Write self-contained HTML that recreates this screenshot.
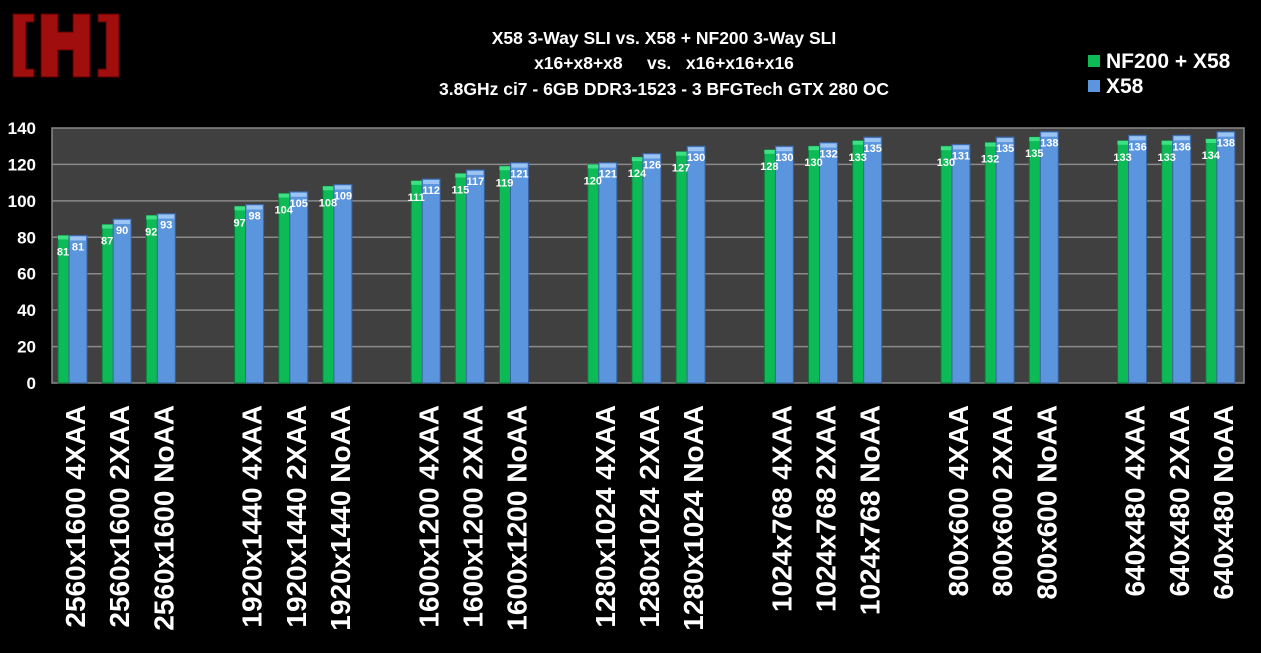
<!DOCTYPE html>
<html><head><meta charset="utf-8"><style>
html,body{margin:0;padding:0;background:#000;width:1261px;height:653px;overflow:hidden}
svg{display:block}
text{font-family:"Liberation Sans",Arial,sans-serif;font-weight:bold}
</style></head><body>
<svg id="chart" width="1261" height="653">
<g fill="#a10e0e" stroke="#5a0000" stroke-width="1">
<path d="M13,14 H34 V22 H26 V69 H34 V77 H13 Z"/>
<path d="M41,14 H58 V32 H73 V14 H90 V77 H73 V50 H58 V77 H41 Z"/>
<path d="M98,14 H119 V77 H98 V69 H106 V22 H98 Z"/>
</g>
<g fill="#fff" font-size="17.5" text-anchor="middle">
<text x="664" y="44">X58 3-Way SLI vs. X58 + NF200 3-Way SLI</text>
<text x="664" y="69">x16+x8+x8 &#160;&#160;&#160; vs. &#160; x16+x16+x16</text>
<text x="664" y="95">3.8GHz ci7 - 6GB DDR3-1523 - 3 BFGTech GTX 280 OC</text>
</g>
<g>
<rect x="1088" y="55" width="12" height="12" fill="#0cbb55"/>
<text x="1106" y="68" fill="#fff" font-size="21">NF200 + X58</text>
<rect x="1088" y="80" width="12" height="12" fill="#5b95dd"/>
<text x="1106" y="93" fill="#fff" font-size="21">X58</text>
</g>
<rect x="52" y="128" width="1192" height="255" fill="#404040" stroke="#888" stroke-width="1.5"/>
<g id="grid"></g><g id="bars"></g><g id="yticks"></g><g id="xlabels"></g>
</svg>
<script>
const categories=["2560x1600 4XAA","2560x1600 2XAA","2560x1600 NoAA","1920x1440 4XAA","1920x1440 2XAA","1920x1440 NoAA","1600x1200 4XAA","1600x1200 2XAA","1600x1200 NoAA","1280x1024 4XAA","1280x1024 2XAA","1280x1024 NoAA","1024x768 4XAA","1024x768 2XAA","1024x768 NoAA","800x600 4XAA","800x600 2XAA","800x600 NoAA","640x480 4XAA","640x480 2XAA","640x480 NoAA"];
const nf200=[81,87,92,97,104,108,111,115,119,120,124,127,128,130,133,130,132,135,133,133,134];
const x58=[81,90,93,98,105,109,112,117,121,121,126,130,130,132,135,131,135,138,136,136,138];
const yTicks=[0,20,40,60,80,100,120,140];
const NS="http://www.w3.org/2000/svg";
const L=52,R=1244,T=128,B=383,YMAX=140;
const slotW=(R-L)/27;
function y(v){return B-(v/YMAX)*(B-T);}
function slotX(i){return L+(i+Math.floor(i/3))*slotW;}
function mk(tag,attrs,parent){const e=document.createElementNS(NS,tag);for(const k in attrs)e.setAttribute(k,attrs[k]);parent.appendChild(e);return e;}
const grid=document.getElementById('grid'),bars=document.getElementById('bars'),yt=document.getElementById('yticks'),xl=document.getElementById('xlabels');
yTicks.forEach(v=>{
 if(v>0&&v<YMAX){const g=mk('line',{x1:L,x2:R,y1:y(v),y2:y(v),stroke:'#8a8a8a','stroke-width':1.5},grid);
 
 }
 const t=mk('text',{x:36,y:y(v)+6,'text-anchor':'end','font-size':17,fill:'#fff'},yt);t.textContent=v;
 
 
});
categories.forEach((c,i)=>{
 const sx=slotX(i);
 const g=mk('rect',{x:sx+6,y:y(nf200[i]),width:12,height:B-y(nf200[i]),fill:'#0cbb55',stroke:'#0a7a3a','stroke-width':1},bars);
 
 
 mk('rect',{x:sx+6,y:y(nf200[i]),width:12,height:4,fill:'#3ee084'},bars);
 const b=mk('rect',{x:sx+17,y:y(x58[i]),width:18,height:B-y(x58[i]),fill:'#5b95dd',stroke:'#3a63a0','stroke-width':1},bars);
 
 
 mk('rect',{x:sx+18,y:y(x58[i])+1,width:16,height:4,fill:'#9cc4f2'},bars);
 const t1=mk('text',{x:sx+11,y:y(nf200[i])+20,'text-anchor':'middle','font-size':11,fill:'#fff'},bars);t1.textContent=nf200[i];
 
 
 const t2=mk('text',{x:sx+26,y:y(x58[i])+15,'text-anchor':'middle','font-size':11,fill:'#fff'},bars);t2.textContent=x58[i];
 
 
 const cx=sx+slotW/2+11;
 const lb=mk('text',{x:0,y:0,'text-anchor':'end','font-size':28,fill:'#fff',transform:'translate('+cx+',405) rotate(-90)'},xl);lb.textContent=c;
 
 
});
</script>
</body></html>
